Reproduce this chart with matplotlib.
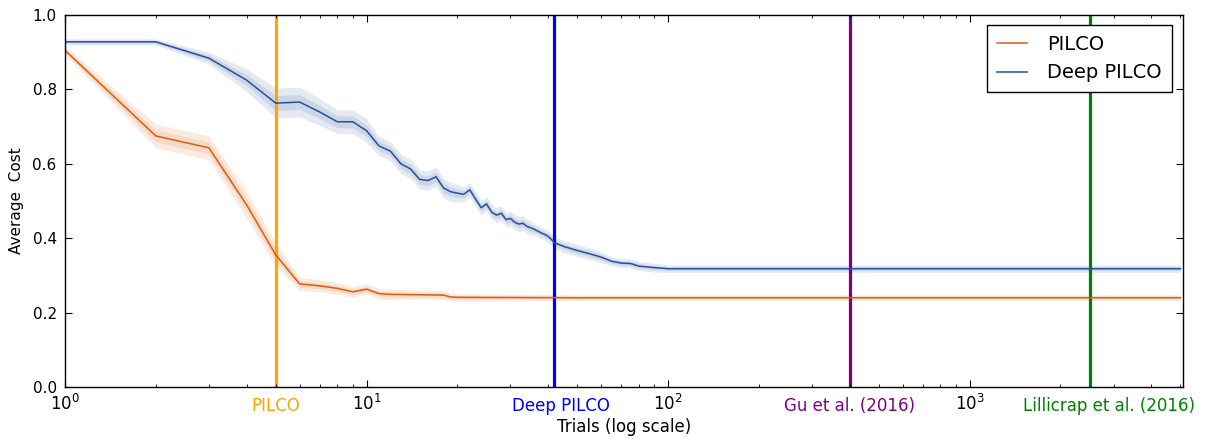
import matplotlib
matplotlib.use("Agg")
import matplotlib.pyplot as plt
import matplotlib.transforms as mtransforms
import numpy as np

# PILCO learning curve (mean and std of average cost per trial)
pilco_trials = [1, 2, 3, 4, 5, 6, 7, 8, 9, 10, 11, 12, 15, 18, 19, 20, 50, 100, 1000, 5000]
pilco_cost = [0.905, 0.675, 0.643, 0.490, 0.355, 0.277, 0.272, 0.265, 0.256, 0.263,
              0.251, 0.249, 0.248, 0.247, 0.242, 0.241, 0.240, 0.240, 0.240, 0.240]
pilco_std = [0.006, 0.016, 0.016, 0.018, 0.016, 0.009, 0.008, 0.008, 0.007, 0.007,
             0.007, 0.007, 0.006, 0.006, 0.005, 0.005, 0.004, 0.004, 0.004, 0.004]

# Deep PILCO learning curve
deep_trials = [1, 2, 3, 4, 5, 6, 7, 8, 9, 10, 11, 12, 13, 14, 15, 16, 17, 18, 19, 20,
               21, 22, 23, 24, 25, 26, 27, 28, 29, 30, 31, 32, 33, 34, 35, 36, 37, 38, 39, 40,
               41, 42, 45, 50, 55, 60, 65, 70, 75, 80, 90, 100, 1000, 5000]
deep_cost = [0.928, 0.928, 0.884, 0.825, 0.763, 0.766, 0.739, 0.713, 0.713, 0.689,
             0.648, 0.634, 0.600, 0.586, 0.558, 0.555, 0.565, 0.535, 0.525, 0.521,
             0.518, 0.530, 0.505, 0.482, 0.492, 0.470, 0.462, 0.467, 0.450, 0.453,
             0.443, 0.438, 0.440, 0.432, 0.428, 0.424, 0.419, 0.414, 0.410, 0.405,
             0.397, 0.388, 0.378, 0.367, 0.358, 0.349, 0.338, 0.333, 0.332, 0.325,
             0.321, 0.318, 0.318, 0.318]
deep_std = [0.004, 0.004, 0.008, 0.015, 0.020, 0.020, 0.018, 0.016, 0.016, 0.016,
            0.013, 0.013, 0.013, 0.013, 0.013, 0.013, 0.013, 0.013, 0.013, 0.012,
            0.010, 0.010, 0.010, 0.010, 0.010, 0.010, 0.010, 0.010, 0.010, 0.010,
            0.010, 0.010, 0.010, 0.010, 0.010, 0.008, 0.008, 0.008, 0.008, 0.008,
            0.008, 0.008, 0.008, 0.008, 0.008, 0.007, 0.006, 0.006, 0.006, 0.006,
            0.006, 0.005, 0.005, 0.005]

# trials needed by each method, and where their labels sit
method_names = ["PILCO", "Deep PILCO", "Gu et al. (2016)", "Lillicrap et al. (2016)"]
method_trials = [5, 42, 400, 2500]
method_label_x = [5, 44, 400, 2900]
method_colors = ["#ffa500", "#0000ff", "#800080", "#008000"]

X_MAX = 5100

plt.rcParams["font.family"] = ["DejaVu Sans"]
plt.rcParams["xtick.direction"] = "in"
plt.rcParams["ytick.direction"] = "in"
plt.rcParams["xtick.top"] = True
plt.rcParams["ytick.right"] = True
plt.rcParams["xtick.major.size"] = 5
plt.rcParams["ytick.major.size"] = 5
plt.rcParams["xtick.minor.size"] = 2.5
plt.rcParams["xtick.major.pad"] = 5
plt.rcParams["ytick.major.pad"] = 6

fig = plt.figure(figsize=(12.1, 4.42), dpi=100)
ax = fig.add_axes([65 / 1210, 1 - 387 / 442, 1118 / 1210, 372 / 442])


def _draw_curve(trials, cost, std, color, label):
    t = np.array(trials, dtype=float)
    c = np.array(cost)
    s = np.array(std)
    ax.fill_between(t, c - 2 * s, c + 2 * s, color=color, alpha=0.12, linewidth=0)
    ax.fill_between(t, c - s, c + s, color=color, alpha=0.12, linewidth=0)
    ax.plot(t, c, color=color, linewidth=1.1, label=label)


_draw_curve(pilco_trials, pilco_cost, pilco_std, "#d95f0e", "PILCO")
_draw_curve(deep_trials, deep_cost, deep_std, "#22529a", "Deep PILCO")

trans = mtransforms.blended_transform_factory(ax.transData, ax.transAxes)
for name, xv, lx, col in zip(method_names, method_trials, method_label_x, method_colors):
    ax.axvline(xv, color=col, linewidth=2.3, zorder=1)
    ax.text(lx, -0.027, name, color=col, fontsize=12, ha="center", va="top", transform=trans)

ax.set_xscale("log")
ax.set_xlim(1, X_MAX)
ax.set_ylim(0, 1.0)
ax.set_yticks([0.0, 0.2, 0.4, 0.6, 0.8, 1.0])
ax.set_yticklabels(["0.0", "0.2", "0.4", "0.6", "0.8", "1.0"])
ax.tick_params(axis="x", labelsize=12)
ax.tick_params(axis="y", labelsize=11)
for sp in ax.spines.values():
    sp.set_linewidth(1.0)

ax.set_xlabel("Trials (log scale)", fontsize=12, labelpad=3)
ax.set_ylabel("Average  Cost", fontsize=11, labelpad=6)

leg = ax.legend(loc="upper right", fontsize=14, fancybox=False, edgecolor="black",
                framealpha=1, borderpad=0.5, handlelength=1.55, handletextpad=1.05,
                borderaxespad=0, labelspacing=0.5, bbox_to_anchor=(0.99, 0.973))
leg.get_frame().set_linewidth(1.0)

fig.savefig("out.png", dpi=100, facecolor="white")
